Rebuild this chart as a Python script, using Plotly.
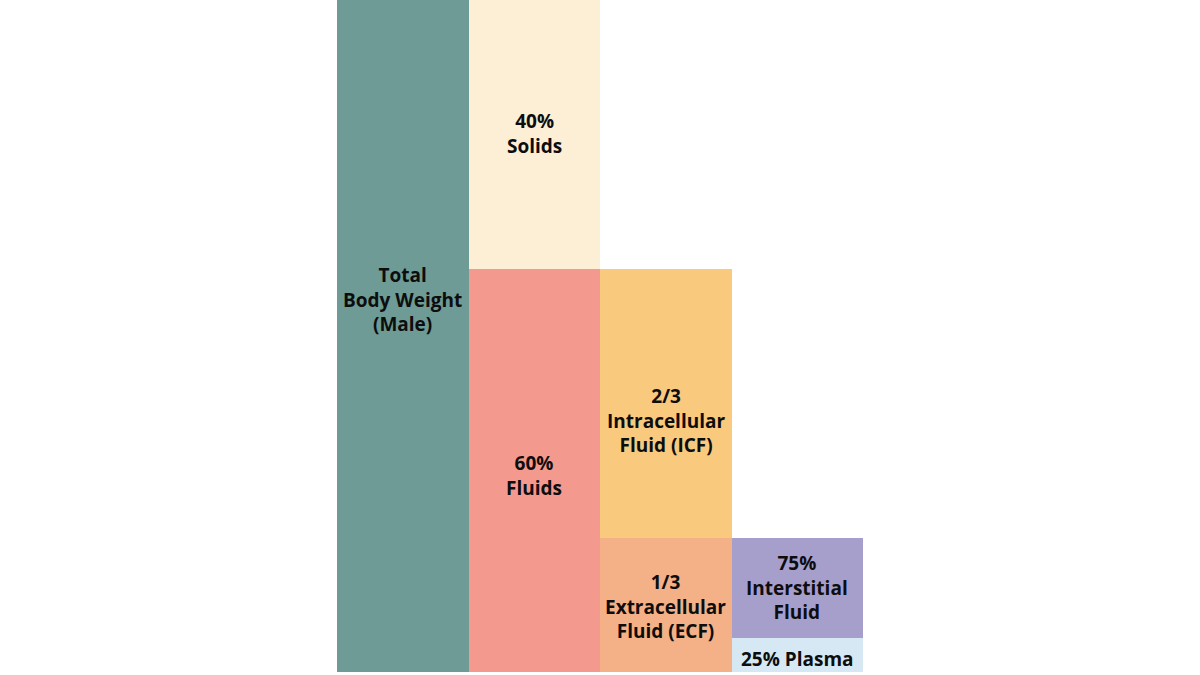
import plotly.graph_objects as go

# Data (percent of total body weight)
segment_labels = ["Total<br>Body Weight<br>(Male)", "40%<br>Solids", "60%<br>Fluids",
                  "2/3<br>Intracellular<br>Fluid (ICF)", "1/3<br>Extracellular<br>Fluid (ECF)",
                  "75%<br>Interstitial<br>Fluid", "25% Plasma"]
segment_column = [0, 1, 1, 2, 2, 3, 3]
segment_base = [0, 60, 0, 20, 0, 5, 0]
segment_value = [100, 40, 60, 40, 20, 15, 5]
label_y = [55.4, 80.2, 29.2, 37.5, 9.8, 12.6, 1.9]
segment_colors = ["#6E9B95", "#FDEFD6", "#F3998D", "#F9C97E", "#F4B087", "#A69ECB", "#D6E8F3"]

fig = go.Figure()
for i in range(len(segment_labels)):
    fig.add_trace(go.Bar(
        x=[segment_column[i]], y=[segment_value[i]], base=[segment_base[i]],
        width=1, marker=dict(color=segment_colors[i], line=dict(width=0)),
        hoverinfo="skip", showlegend=False,
    ))
    fig.add_annotation(
        x=segment_column[i], y=label_y[i], text=segment_labels[i],
        showarrow=False, xref="x", yref="y",
        font=dict(family="Open Sans", size=19, color="#0d0d0d", weight="bold"),
        align="center",
    )

fig.update_layout(
    width=1200, height=675,
    margin=dict(l=337, r=337, t=0, b=3),
    barmode="overlay", bargap=0,
    plot_bgcolor="white", paper_bgcolor="white",
    xaxis=dict(range=[-0.5, 3.5], visible=False, fixedrange=True),
    yaxis=dict(range=[0, 100], visible=False, fixedrange=True),
)
fig.write_html("out.html")
